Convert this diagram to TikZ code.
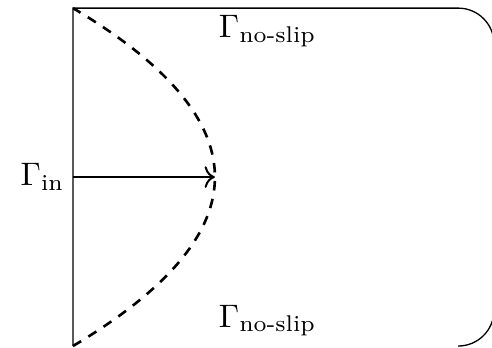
\documentclass[tikz,border=0pt]{standalone}
\usepackage{amsmath}
\usetikzlibrary{arrows.meta}

\tikzset{
  wall/.style={line width=0.55pt},
  profile/.style={line width=1.1pt,dash pattern=on 4pt off 3.6pt},
  bclabel/.style={scale=1.37}
}

\begin{document}
\begin{tikzpicture}[x=1cm,y=1cm]
  \useasboundingbox (-1.08,-0.015) rectangle (6.20,5.12);
  \clip (-1.08,-0.015) rectangle (6.20,5.12);

  % channel wall: inlet on the left, rounded outlet corners on the right
  \draw[wall] (0,0) -- (0,5) -- (5.7,5) arc[start angle=90,end angle=0,radius=0.53]
        -- (6.23,0.53) arc[start angle=0,end angle=-90,radius=0.53];

  % inflow profile
  \draw[profile,domain=0:5,samples=120,smooth,variable=\t]
       plot ({2.1*(1-((\t-2.5)/2.5)^2)},{\t});

  \coordinate (inlet) at (0,2.5);
  \coordinate (vertex) at (2.1,2.5);
  \draw[line width=0.85pt,-{To[scale=1.25]}] (inlet) -- (vertex);

  \node[bclabel,left,xshift=0.9pt] (gin) at (inlet) {$\Gamma_{\text{in}}$};
  \node[bclabel,anchor=base west] (gtop) at (1.99,4.57) {$\Gamma_{\text{no-slip}}$};
  \node[bclabel,anchor=base west] (gbot) at (1.99,0.28) {$\Gamma_{\text{no-slip}}$};
\end{tikzpicture}
\end{document}
